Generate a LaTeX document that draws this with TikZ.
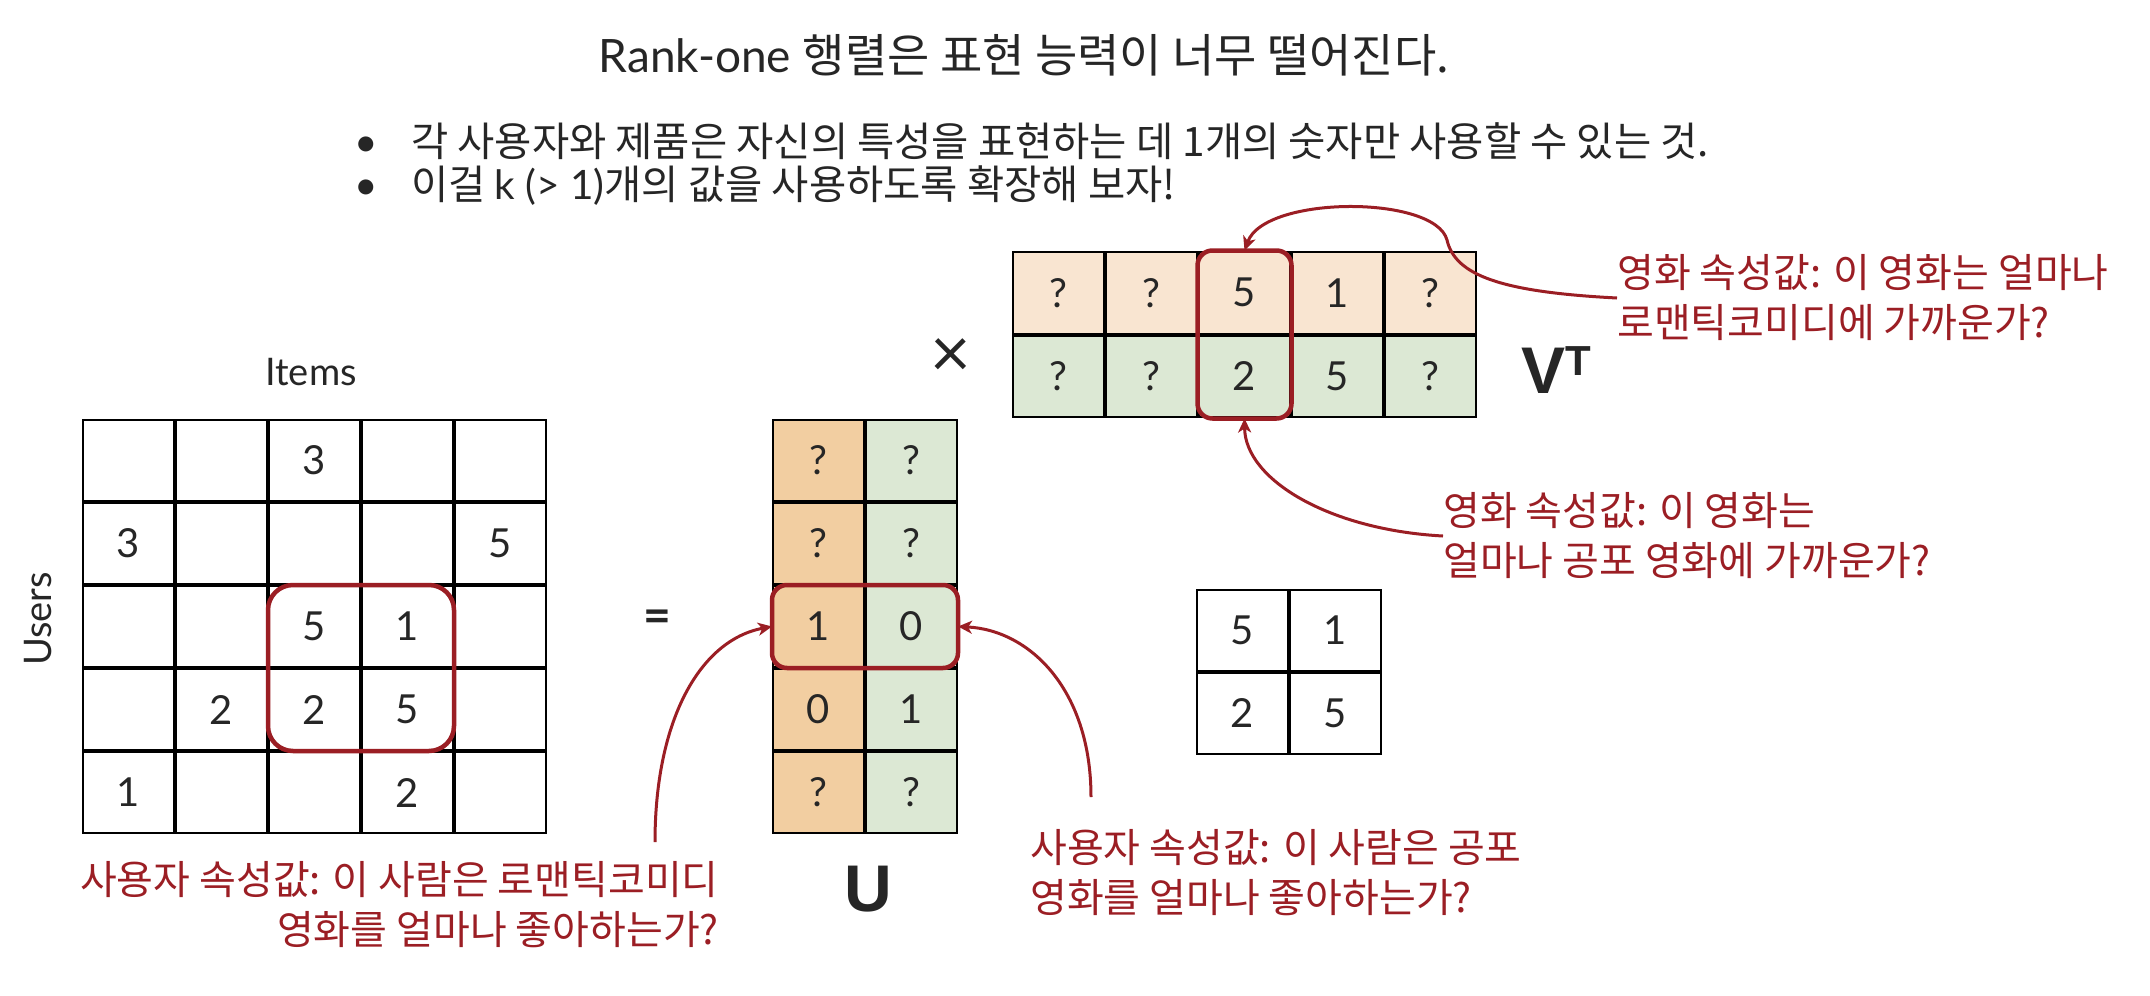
\documentclass[tikz,border=0pt]{standalone}
\usepackage{fontspec}
\setmainfont{Lato}
\newfontfamily\kr{Noto Sans CJK KR}
\newfontfamily\arialfont{Liberation Sans}
\usetikzlibrary{matrix,fit,arrows.meta}
\definecolor{txt}{RGB}{38,38,38}
\definecolor{anno}{RGB}{155,30,36}
\definecolor{orU}{RGB}{242,206,161}
\definecolor{orV}{RGB}{249,229,209}
\definecolor{grn}{RGB}{220,232,212}
\tikzset{
  cellbase/.style={draw=black, line width=2pt, minimum width=91pt, minimum height=81pt,
    inner sep=0pt, outer sep=0pt, font=\fontsize{40}{40}\selectfont, text=txt, anchor=center},
  mtx/.style={matrix of nodes, nodes in empty cells, anchor=north west,
    column sep=0pt, row sep=0pt, inner sep=0pt, outer sep=0pt},
  redbox/.style={draw=anno, line width=4.5pt, outer sep=0pt},
  arr/.style={draw=anno, line width=3pt, -{Stealth[length=14pt,width=13pt,inset=4pt]}},
  annot/.style={text=anno, font=\kr\fontsize{40}{50}\selectfont, inner sep=0pt},
  lbl/.style={text=txt, font=\fontsize{38}{44}\selectfont, inner sep=0pt},
  bullettxt/.style={text=txt, font=\fontsize{40.5}{44}\selectfont, inner sep=0pt},
  bigl/.style={text=txt, font=\arialfont\bfseries\fontsize{66}{66}\selectfont, inner sep=0pt},
}
\begin{document}
\begin{tikzpicture}[x=1pt,y=-1pt]
\useasboundingbox (0,0) rectangle (2150,996);

% title and bullets
\node[lbl, font=\fontsize{46}{52}\selectfont, anchor=base] (title) at (1024,72)
  {Rank-one {\kr 행렬은 표현 능력이 너무 떨어진다.}};
\node[bullettxt, anchor=base west] (b1) at (354,156)
  {\makebox[57pt][l]{\textbullet}{\kr 각 사용자와 제품은 자신의 특성을 표현하는 데 1개의 숫자만 사용할 수 있는 것.}};
\node[bullettxt, anchor=base west] (b2) at (354,199)
  {\makebox[57pt][l]{\textbullet}{\kr 이걸 }k (> 1){\kr 개의 값을 사용하도록 확장해 보자!}};

% labels
\node[lbl, anchor=base] (items) at (311,385) {Items};
\node[lbl, rotate=90, anchor=base] (users) at (51,619) {Users};

% rating matrix
\matrix (R) [mtx, nodes={cellbase, fill=white}] at (82,419) {
  & & 3 & & \\
  3 & & & & 5 \\
  & & 5 & 1 & \\
  & 2 & 2 & 5 & \\
  1 & & & 2 & \\
};

% equals
\node[text=txt, font=\bfseries\fontsize{48}{48}\selectfont, inner sep=0pt] (eq) at (657,621) {=};

% U matrix
\matrix (U) [mtx, nodes={cellbase},
  column 1/.style={nodes={fill=orU}}, column 2/.style={nodes={fill=grn}}] at (772,419) {
  ? & ? \\
  ? & ? \\
  1 & 0 \\
  0 & 1 \\
  ? & ? \\
};
\node[bigl] (ulab) at (868,889) {U};

% times
\node[text=txt, font=\fontsize{70}{70}\selectfont, inner sep=0pt] (times) at (951,358) {×};

% V^T matrix
\matrix (V) [mtx, nodes={cellbase, minimum height=81.5pt},
  row 1/.style={nodes={fill=orV}}, row 2/.style={nodes={fill=grn}}] at (1012,251) {
  ? & ? & 5 & 1 & ? \\
  ? & ? & 2 & 5 & ? \\
};
\node[bigl, anchor=base west] (vlab) at (1521,393)
  {V\raisebox{18pt}{\fontsize{42}{42}\selectfont T}};

% 2x2 result
\matrix (S) [mtx, nodes={cellbase, fill=white}] at (1196,589) {
  5 & 1 \\
  2 & 5 \\
};

% red highlight boxes
\node[redbox, rounded corners=25pt, inner sep=1pt, fit=(R-3-3)(R-4-4)] (Rbox) {};
\node[redbox, rounded corners=15pt, inner sep=1pt, fit=(U-3-1)(U-3-2)] (Ubox) {};
\node[redbox, rounded corners=15pt, inner sep=1.5pt, fit=(V-1-3)(V-2-3)] (Vbox) {};

% annotations
\node[annot, anchor=west, align=left] (topnote) at (1617,298)
  {영화 속성값: 이 영화는 얼마나\\로맨틱코미디에 가까운가?};
\node[annot, anchor=west, align=left] (midnote) at (1443,536)
  {영화 속성값: 이 영화는\\얼마나 공포 영화에 가까운가?};
\node[annot, anchor=east, align=right] (leftnote) at (719,905)
  {사용자 속성값: 이 사람은 로맨틱코미디\\영화를 얼마나 좋아하는가?};
\node[annot, anchor=west, align=left] (rightnote) at (1030,873)
  {사용자 속성값: 이 사람은 공포\\영화를 얼마나 좋아하는가?};

\coordinate (cL) at (655,842);
\coordinate (cR) at (1091,797);
\coordinate (cT) at (1447,240);

% connectors
\draw[arr] (topnote.west) .. controls (1500,292) and (1455,275) .. (cT)
  .. controls (1435,195) and (1265,195) .. (Vbox.north);
\draw[arr] (midnote.west) .. controls (1330,530) and (1245,480) .. (Vbox.south);
\draw[arr] (cL) .. controls (655,720) and (700,640) .. (Ubox.west);
\draw[arr] (cR) .. controls (1091,690) and (1030,630) .. (Ubox.east);
\end{tikzpicture}
\end{document}
